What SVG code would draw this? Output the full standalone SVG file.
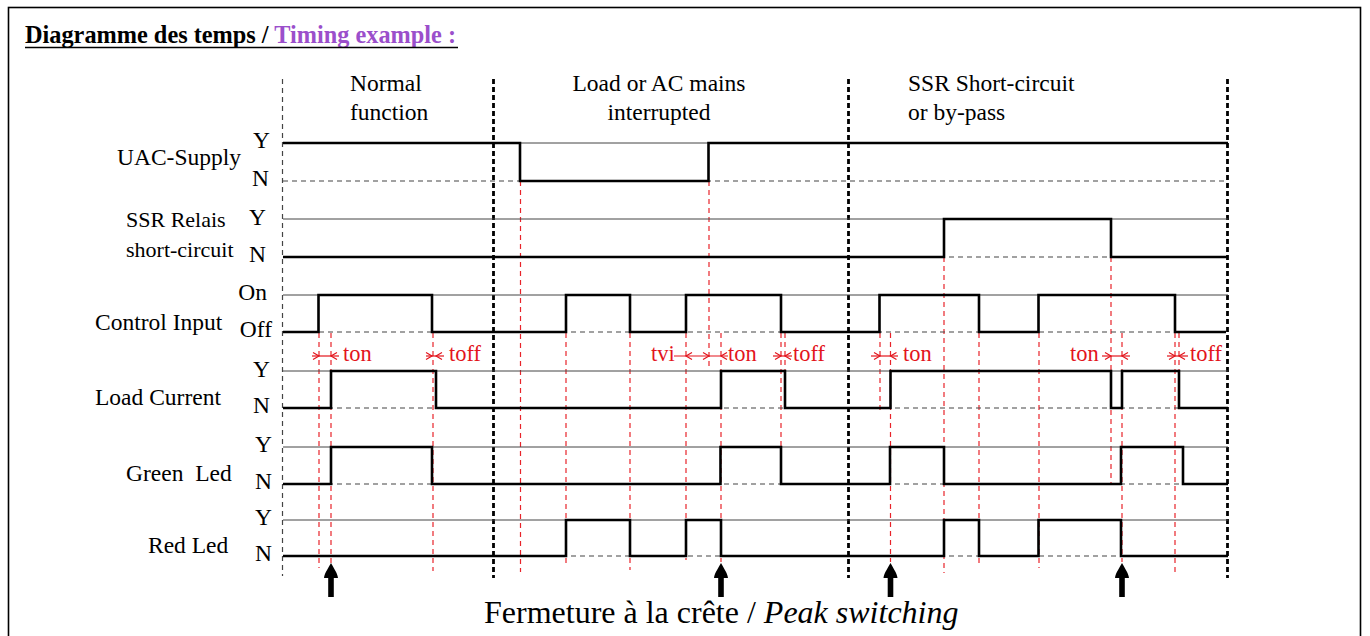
<svg xmlns="http://www.w3.org/2000/svg" xmlns:xlink="http://www.w3.org/1999/xlink" width="1370" height="636" viewBox="0 0 1370 636">
<style>
text{font-family:"Liberation Serif","Times New Roman",serif;fill:#000}
.lbl{font-size:23.5px}
.sm{font-size:22px}
.yn{font-size:23.5px;text-anchor:end}
.red{fill:#e3141c;font-size:22.5px}
.ref{stroke:#444;stroke-width:1;fill:none}
.base{stroke:#444;stroke-width:1.2;stroke-dasharray:5 4;fill:none}
.sig{stroke:#000;stroke-width:2.6;fill:none;stroke-linejoin:miter}
.rd{stroke:#e8232a;stroke-width:1.2;stroke-dasharray:5 4;fill:none}
.gd{stroke:#444;stroke-width:1.2;stroke-dasharray:5 4;fill:none}
.bd{stroke:#000;stroke-width:2.8;stroke-dasharray:5 3;fill:none}
.dim{stroke:#e3141c;stroke-width:1.2;fill:none}
.tip{stroke:#e3141c;stroke-width:1.2;fill:none}
.pk{fill:#000}
</style>
<defs>
<path id="tipR" class="tip" d="M-6,-3.5 L0,0 L-6,3.5"/>
<path id="tipL" class="tip" d="M6,-3.5 L0,0 L6,3.5"/>
<path id="peak" class="pk" d="M0,0 C2,4 6.5,10 7,15 L2.8,15 L2.8,34 L-2.8,34 L-2.8,15 L-7,15 C-6.5,10 -2,4 0,0 Z"/>
</defs>

<rect x="8.5" y="7.5" width="1352" height="700" fill="none" stroke="#000" stroke-width="1.6"/>

<g id="title">
<text x="25" y="43" style="font-size:24.3px;font-weight:bold">Diagramme des temps / <tspan fill="#9b4fcb">Timing example : </tspan></text>
<line x1="25" y1="47.5" x2="458" y2="47.5" stroke="#000" stroke-width="1.6"/>
</g>

<g id="sections">
<text class="lbl" x="350" y="91">Normal</text>
<text class="lbl" x="350" y="120">function</text>
<text class="lbl" x="659" y="91" text-anchor="middle">Load or AC mains</text>
<text class="lbl" x="659" y="120" text-anchor="middle">interrupted</text>
<text class="lbl" x="908" y="91">SSR Short-circuit</text>
<text class="lbl" x="908" y="120">or by-pass</text>
</g>

<g id="grid">
<line class="gd" x1="282.5" y1="79" x2="282.5" y2="576"/>
<line class="bd" x1="493.5" y1="79" x2="493.5" y2="578"/>
<line class="bd" x1="848.5" y1="79" x2="848.5" y2="578"/>
<line class="bd" x1="1227.5" y1="79" x2="1227.5" y2="578"/>
</g>

<g id="red-guides">
<line class="rd" x1="319" y1="333" x2="319" y2="568"/>
<line class="rd" x1="331" y1="333" x2="331" y2="565"/>
<line class="rd" x1="433" y1="333" x2="433" y2="571"/>
<line class="rd" x1="520.5" y1="181" x2="520.5" y2="572"/>
<line class="rd" x1="566" y1="333" x2="566" y2="567"/>
<line class="rd" x1="630" y1="333" x2="630" y2="570"/>
<line class="rd" x1="686" y1="333" x2="686" y2="560"/>
<line class="rd" x1="709" y1="181" x2="709" y2="367"/>
<line class="rd" x1="721" y1="333" x2="721" y2="562"/>
<line class="rd" x1="781" y1="333" x2="781" y2="486"/>
<line class="rd" x1="785" y1="333" x2="785" y2="372"/>
<line class="rd" x1="880" y1="333" x2="880" y2="413"/>
<line class="rd" x1="890.5" y1="333" x2="890.5" y2="562"/>
<line class="rd" x1="944" y1="257" x2="944" y2="573"/>
<line class="rd" x1="979" y1="333" x2="979" y2="567"/>
<line class="rd" x1="1039" y1="333" x2="1039" y2="568"/>
<line class="rd" x1="1111" y1="257" x2="1111" y2="485"/>
<line class="rd" x1="1122" y1="333" x2="1122" y2="562"/>
<line class="rd" x1="1175" y1="333" x2="1175" y2="572"/>
<line class="rd" x1="1179" y1="333" x2="1179" y2="408"/>
</g>

<g id="row-uac">
<text class="lbl" x="117" y="165">UAC-Supply</text>
<text class="yn" x="270" y="148">Y</text>
<text class="yn" x="269" y="186">N</text>
<line class="ref" x1="283" y1="143" x2="1228" y2="143"/>
<line class="base" x1="283" y1="181" x2="1228" y2="181"/>
<path class="sig" d="M283,143 H520 V181 H708.5 V143 H1228"/>
</g>

<g id="row-ssr">
<text class="sm" x="126" y="227">SSR Relais</text>
<text class="sm" x="126" y="257">short-circuit</text>
<text class="yn" x="266" y="225">Y</text>
<text class="yn" x="266" y="262">N</text>
<line class="ref" x1="283" y1="219" x2="1228" y2="219"/>
<line class="base" x1="283" y1="257" x2="1228" y2="257"/>
<path class="sig" d="M283,257 H944 V219 H1111 V257 H1228"/>
</g>

<g id="row-control">
<text class="lbl" x="95" y="330">Control Input</text>
<text class="yn" x="267" y="300">On</text>
<text class="yn" x="272" y="337">Off</text>
<line class="ref" x1="283" y1="295" x2="1228" y2="295"/>
<line class="base" x1="283" y1="332" x2="1228" y2="332"/>
<path class="sig" d="M283,332 H318.5 V295 H432 V332 H566 V295 H630 V332 H686 V295 H781 V332 H879.5 V295 H979 V332 H1038.5 V295 H1175 V332 H1226"/>
</g>

<g id="timings">
<path class="dim" d="M312,356 H339"/>
<use xlink:href="#tipR" x="319" y="356"/>
<use xlink:href="#tipL" x="331" y="356"/>
<text class="red" x="343" y="361">ton</text>
<path class="dim" d="M426,356 H444"/>
<use xlink:href="#tipR" x="432" y="356"/>
<use xlink:href="#tipL" x="436" y="356"/>
<text class="red" x="449" y="361">toff</text>
<text class="red" x="651" y="361">tvi</text>
<path class="dim" d="M674,356 H728"/>
<use xlink:href="#tipL" x="686" y="356"/>
<use xlink:href="#tipR" x="709" y="356"/>
<use xlink:href="#tipL" x="721" y="356"/>
<text class="red" x="728" y="361">ton</text>
<path class="dim" d="M773,356 H792"/>
<use xlink:href="#tipR" x="781" y="356"/>
<use xlink:href="#tipL" x="785" y="356"/>
<text class="red" x="793" y="361">toff</text>
<path class="dim" d="M871,356 H898"/>
<use xlink:href="#tipR" x="880" y="356"/>
<use xlink:href="#tipL" x="890.5" y="356"/>
<text class="red" x="903" y="361">ton</text>
<text class="red" x="1070" y="361">ton</text>
<path class="dim" d="M1102,356 H1130"/>
<use xlink:href="#tipR" x="1111" y="356"/>
<use xlink:href="#tipL" x="1122" y="356"/>
<path class="dim" d="M1167,356 H1188"/>
<use xlink:href="#tipR" x="1175" y="356"/>
<use xlink:href="#tipL" x="1179" y="356"/>
<text class="red" x="1190" y="361">toff</text>
</g>

<g id="row-load">
<text class="lbl" x="95" y="405">Load Current</text>
<text class="yn" x="270" y="377">Y</text>
<text class="yn" x="270" y="413">N</text>
<line class="ref" x1="283" y1="371" x2="1228" y2="371"/>
<line class="base" x1="283" y1="408" x2="1228" y2="408"/>
<path class="sig" d="M283,408 H331 V371 H436 V408 H721 V371 H785 V408 H890.5 V371 H1111 V408 H1122 V371 H1179 V408 H1228"/>
</g>

<g id="row-green">
<text class="lbl" x="126" y="481" xml:space="preserve">Green  Led</text>
<text class="yn" x="272" y="452">Y</text>
<text class="yn" x="272" y="489">N</text>
<line class="ref" x1="283" y1="447" x2="1228" y2="447"/>
<line class="base" x1="283" y1="484" x2="1228" y2="484"/>
<path class="sig" d="M283,484 H331 V447 H432 V484 H720.5 V447 H781 V484 H890 V447 H944 V484 H1121 V447 H1183 V484 H1228"/>
</g>

<g id="row-red">
<text class="lbl" x="148" y="553">Red Led</text>
<text class="yn" x="272" y="525">Y</text>
<text class="yn" x="272" y="561">N</text>
<line class="ref" x1="283" y1="520" x2="1228" y2="520"/>
<line class="base" x1="283" y1="556" x2="1228" y2="556"/>
<path class="sig" d="M283,556 H566 V520 H630 V556 H686 V520 H721 V556 H944 V520 H979 V556 H1038.5 V520 H1121 V556 H1228"/>
</g>

<g id="peaks">
<use xlink:href="#peak" x="331" y="563"/>
<use xlink:href="#peak" x="721" y="563"/>
<use xlink:href="#peak" x="890.5" y="563"/>
<use xlink:href="#peak" x="1122" y="563"/>
</g>

<g id="caption">
<text x="484" y="623" style="font-size:32px">Fermeture à la crête / <tspan font-style="italic">Peak switching</tspan></text>
</g>
</svg>
